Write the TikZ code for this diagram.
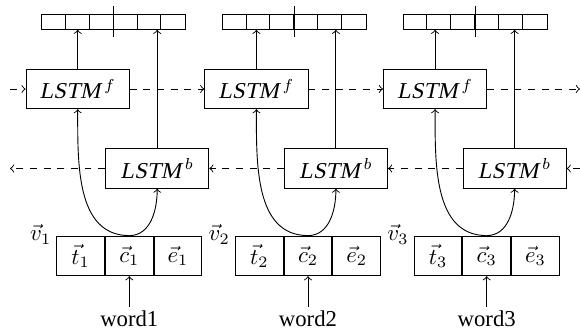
\documentclass[tikz,border=0pt]{standalone}
\usepackage{fontspec}
\setmainfont{Liberation Serif}[ItalicFont={Liberation Serif}, ItalicFeatures={FakeSlant=0.21}]
\begin{document}
\begin{tikzpicture}[x=0.44pt,y=-0.44pt,
  lstm/.style={draw, rectangle, inner sep=0pt, minimum width=45.45pt, minimum height=17.34pt},
  cell/.style={draw, rectangle, inner sep=0pt, minimum width=21.03pt, minimum height=17.47pt},
  arr/.style={draw, rectangle, inner sep=0pt, minimum width=63.2pt, minimum height=6.73pt},
  flow/.style={->, dashed},
  conn/.style={->},
  wordlbl/.style={inner sep=1.5pt, anchor=base},
  vlbl/.style={inner sep=0pt, anchor=east}]
\useasboundingbox (0,0) rectangle (580,329);
\foreach \i/\P/\A in {1/0/0, 2/178.7/180.85, 3/357.4/361.7} {
  \node[arr] (arr\i) at (113.5+\A, 21.65) {};
  \foreach \k in {1,...,5}
    \draw ([xshift=\k*10.53pt]arr\i.south west) -- ([xshift=\k*10.53pt]arr\i.north west);
  \draw ([yshift=6.9pt]arr\i.center) -- ([yshift=-6.8pt]arr\i.center);
  \node[lstm] (lf\i) at (77.7+\P, 89) {\textit{LSTM}\,$^{f}$};
  \node[lstm] (lb\i) at (157.2+\P, 168.5) {\textit{LSTM}\,$^{b}$};
  \node[cell] (c\i) at (129.3+\P, 255.9) {$\vec{c}_{\i}$};
  \node[cell, anchor=east] (t\i) at (c\i.west) {$\vec{t}_{\i}$};
  \node[cell, anchor=west] (e\i) at (c\i.east) {$\vec{e}_{\i}$};
  \node[vlbl] (v\i) at ([xshift=-2pt, yshift=0.6pt]t\i.north west) {$\vec{v}_{\i}$};
  \node[wordlbl] (w\i) at (129.3+\P, 326.5) {word\i};
  \draw[conn] (w\i.north) -- (c\i.south);
  \draw[conn] (c\i.north) to[out=180, in=-90] (lf\i.south);
  \draw[conn] (c\i.north) to[out=0, in=-90] (lb\i.south);
  \draw[conn] (lf\i.north) -- (lf\i.north |- arr\i.south);
  \draw[conn] (lb\i.north) -- (lb\i.north |- arr\i.south);
}
\coordinate (fin) at (10, 89);
\coordinate (fout) at (580, 89);
\coordinate (bout) at (10, 168.5);
\coordinate (bin) at (580, 168.5);
\draw[flow] (fin) -- (lf1.west);
\draw[flow] (lf1.east) -- (lf2.west);
\draw[flow] (lf2.east) -- (lf3.west);
\draw[flow] (lf3.east) -- (fout);
\draw[flow] (bin) -- (lb3.east);
\draw[flow] (lb3.west) -- (lb2.east);
\draw[flow] (lb2.west) -- (lb1.east);
\draw[flow] (lb1.west) -- (bout);
\end{tikzpicture}
\end{document}
